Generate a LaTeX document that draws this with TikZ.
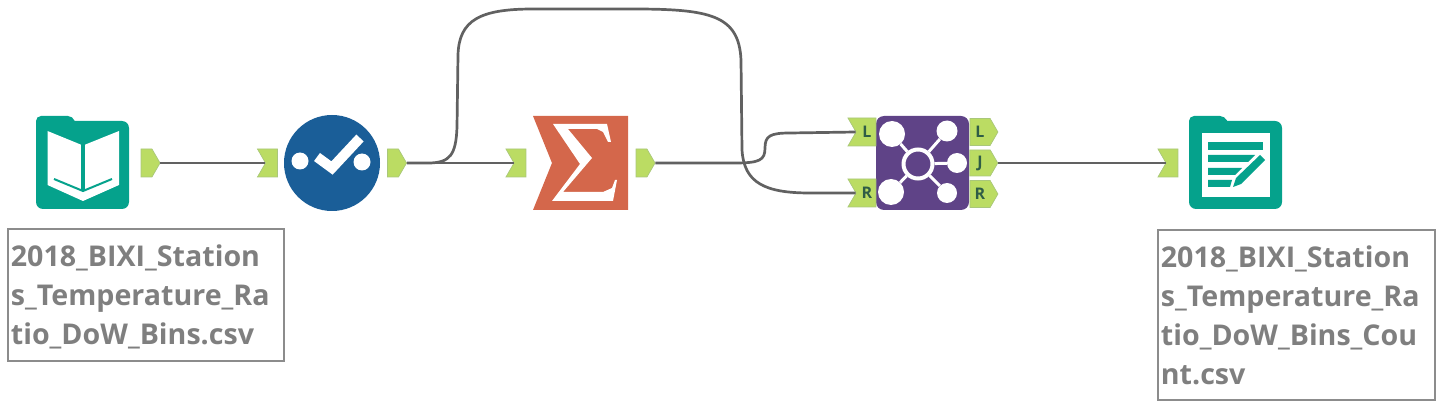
\documentclass[tikz,border=0pt]{standalone}
\usepackage{fontspec}
\setmainfont{Open Sans}
\usepackage{tikz}
\usetikzlibrary{positioning, shapes.symbols}
\definecolor{fileteal}{HTML}{05A28C}
\definecolor{checkblue}{HTML}{1A5E98}
\definecolor{sumorange}{HTML}{D4674B}
\definecolor{joinpurple}{HTML}{5F4387}
\definecolor{portgreen}{HTML}{BBDC63}
\definecolor{portedge}{HTML}{A9C77A}
\definecolor{porttext}{HTML}{2F5D46}
\definecolor{labelgray}{HTML}{7F7F7F}
\tikzset{
	anchorport/.append style={
		signal,
		draw=portedge,
		fill=portgreen,
		line width=0.7pt,
		inner sep=0pt,
		minimum height=28pt,
		signal pointer angle=120,
		font={\fontsize{16}{16}\selectfont\bfseries},
		text=porttext,
	},
	outport/.append style={
		anchorport,
		signal to=east,
		signal from=nowhere,
		minimum width=19pt,
	},
	inport/.append style={
		anchorport,
		signal to=nowhere,
		signal from=west,
		minimum width=20pt,
	},
	fileicon/.append style={
		rectangle,
		rounded corners=7pt,
		fill=fileteal,
		minimum width=93pt,
		minimum height=88pt,
		inner sep=0pt,
	},
	wire/.append style={
		draw=black!62,
		line width=2.7pt,
	},
	caption/.append style={
		draw=black!45,
		line width=1.8pt,
		align=left,
		anchor=north west,
		inner sep=3pt,
		text=labelgray,
		font={\fontsize{28.6}{39}\selectfont\bfseries},
	},
	blob/.append style={
		circle,
		fill=white,
		inner sep=0pt,
	},
}

\begin{document}
\begin{tikzpicture}[x=1pt, y=-1pt]
\useasboundingbox (0,0) rectangle (1446,414);

% tools
\fill[fileteal, rounded corners=5pt] (36,140) -- (36,116) -- (73,116) -- (76,125) -- (36,140);
\node(book)[fileicon] at (82.5,165) {};
\fill[white] (47.5,131) -- (83,145.5) -- (119,131) -- (119,185) -- (83,201) -- (47.5,185) -- cycle;
\draw[fileteal, line width=3.5pt] (83,144) -- (83,190);
\draw[fileteal, line width=2pt] (54,179) -- (83,191) -- (112,179);

\node(check)[circle, fill=checkblue, minimum size=96pt, inner sep=0pt] at (332,163) {};
\node(dotl)[blob, minimum size=17pt] at (300,161) {};
\node(dotr)[blob, minimum size=17pt] at (362,162) {};
\draw[white, line width=10pt] (317,157) -- (332,168) -- (360,138);

\node(sum)[signal, signal to=nowhere, signal from=west, signal pointer angle=136, fill=sumorange, minimum width=95pt, minimum height=94pt, inner sep=0pt] at (590,163) {};
\fill[white] (553,124) -- (607,124) -- (611,142) -- (608,142) -- (603,132) -- (597,129) -- (568,129) -- (592,158) -- (563,192) -- (603,192) -- (612,188) -- (615,180) -- (617,180) -- (613,201) -- (552,201) -- (580,164) -- cycle;

\node(join)[rectangle, rounded corners=8pt, fill=joinpurple, minimum width=93pt, minimum height=94pt, inner sep=0pt] at (922.5,163) {};
\node(hub)[circle, draw=white, line width=4pt, minimum size=29pt, inner sep=0pt] at (918,164) {};
\node(jtl)[blob, minimum size=26pt] at (892,134) {};
\node(jtr)[blob, minimum size=21pt] at (947,131) {};
\node(jr)[blob, minimum size=20pt] at (957,163) {};
\node(jbl)[blob, minimum size=26pt] at (891,192) {};
\node(jbr)[blob, minimum size=20pt] at (947,193) {};
\draw[white, line width=3pt] (hub) -- (jtl);
\draw[white, line width=3pt] (hub) -- (jtr);
\draw[white, line width=3pt] (hub) -- (jr);
\draw[white, line width=3pt] (hub) -- (jbl);
\draw[white, line width=3pt] (hub) -- (jbr);

\fill[fileteal, rounded corners=5pt] (1189,140) -- (1189,116) -- (1225,116) -- (1229,125) -- (1189,140);
\node(write)[fileicon] at (1235.5,165) {};
\fill[white] (1202,133) rectangle (1270,197);
\fill[fileteal] (1208,142) rectangle (1263,150);
\fill[fileteal] (1208,155) -- (1255,155) -- (1248,162) -- (1208,162) -- cycle;
\fill[fileteal] (1208,168) -- (1242,168) -- (1235,175) -- (1208,175) -- cycle;
\fill[fileteal] (1208,180) -- (1232,180) -- (1230,187) -- (1208,187) -- cycle;
\fill[fileteal] (1233,187) -- (1236,178) -- (1260,155) -- (1265,160) -- (1241,184) -- cycle;

% anchors
\node(bookout)[outport] at (146.5,163) {};
\node(checkin)[inport, left=6pt of check] {};
\node(checkout)[outport, right=7pt of check] {};
\node(sumin)[inport] at (520,163) {};
\node(sumout)[outport] at (641.5,163) {};
\node(joinl)[inport, minimum width=28pt] at (866,132) {\hspace{2pt}L};
\node(joinr)[inport, minimum width=28pt] at (866,193) {\hspace{2pt}R};
\node(outl)[outport, minimum width=28pt, minimum height=27pt] at (980,132) {L};
\node(outj)[outport, minimum width=28pt, minimum height=26pt] at (980,163) {J};
\node(outr)[outport, minimum width=28pt, minimum height=27pt] at (980,194) {R};
\node(writein)[inport] at (1172,163) {};

% wires
\draw[wire] (bookout.east) -- (checkin.west);
\draw[wire] (checkout.east) -- (sumin.west);
\draw[wire] (checkout.east) -- (428,163) .. controls (450,163) and (456,155) .. (457,127) -- (458,55) .. controls (459,20) and (480,9) .. (533,9) -- (633,9) .. controls (710,9) and (739,15) .. (741,60) -- (742,150) .. controls (744,183) and (765,193) .. (810,193) -- (joinr.west);
\draw[wire] (sumout.east) -- (735,163) .. controls (760,163) and (765,160) .. (765,148) .. controls (765,136) and (770,133) .. (790,133) -- (joinl.west);
\draw[wire] (outj.east) -- (writein.west);

% labels
\node(booklabel)[caption, text width=270pt, minimum height=132pt] at (7,228) {\rule{0pt}{26pt}2018\_BIXI\_Station\\s\_Temperature\_Ra\\tio\_DoW\_Bins.csv};
\node(writelabel)[caption, text width=271pt, minimum height=170pt] at (1157,229) {2018\_BIXI\_Station\\s\_Temperature\_Ra\\tio\_DoW\_Bins\_Cou\\nt.csv};

\end{tikzpicture}
\end{document}
